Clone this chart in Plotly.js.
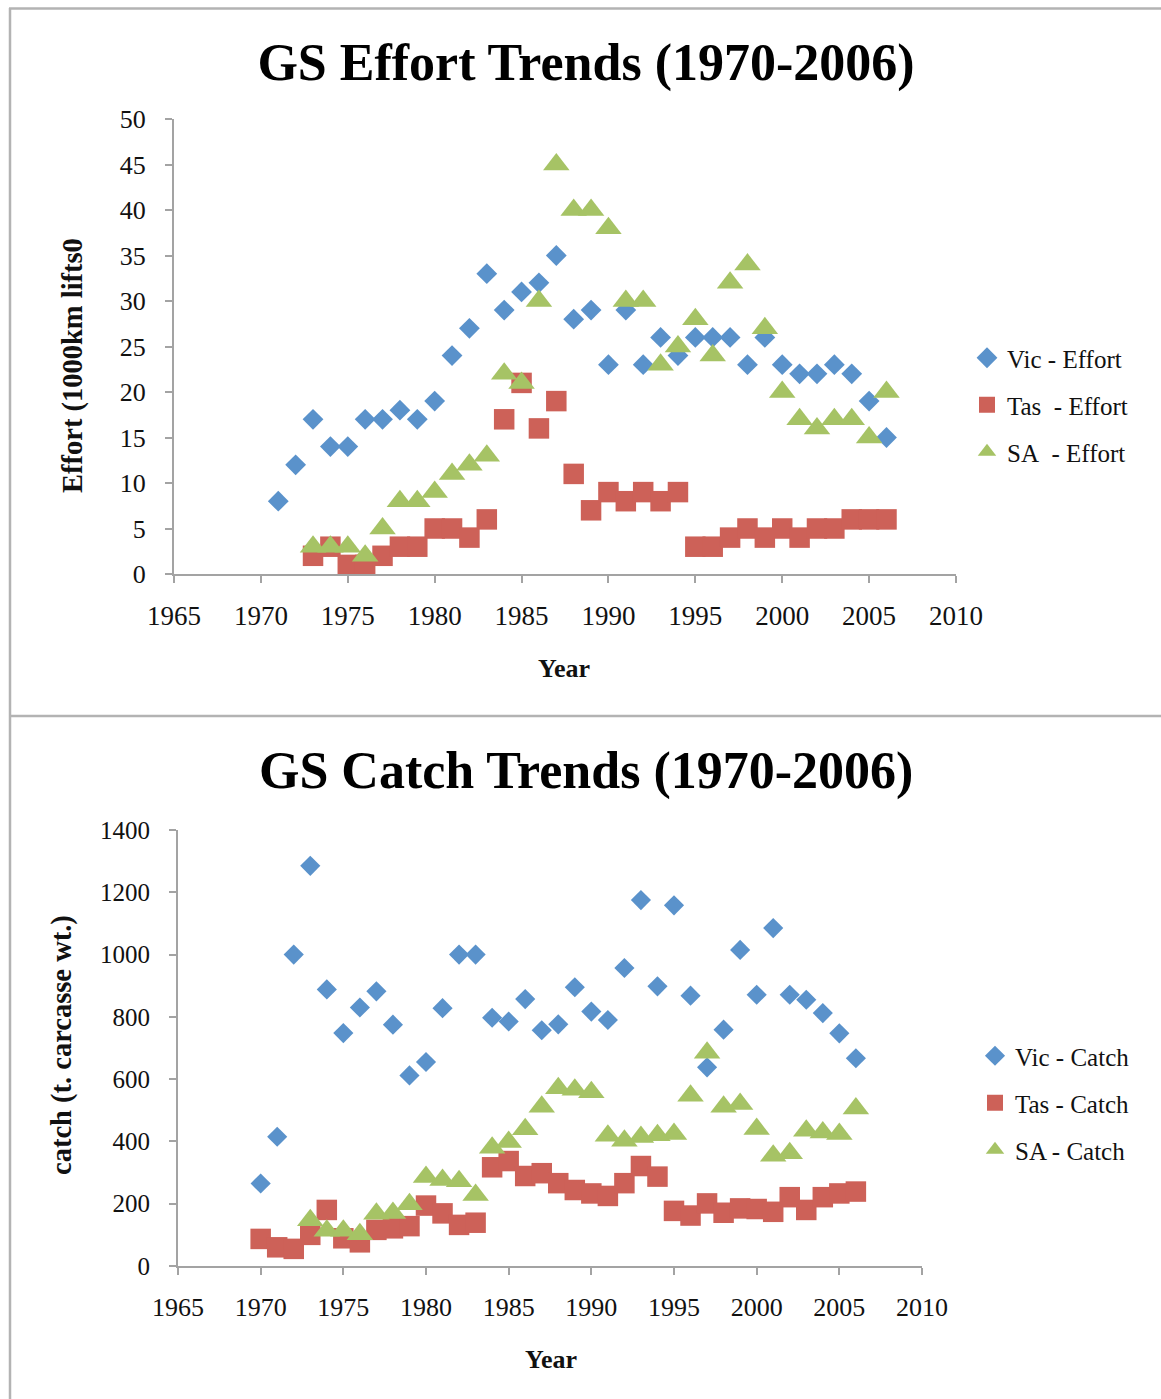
<!DOCTYPE html>
<html>
<head>
<meta charset="utf-8">
<script src="https://cdn.plot.ly/plotly-3.0.1.min.js"></script>
<style>
  html, body { margin: 0; padding: 0; background: #ffffff; }
  #chart { width: 1161px; height: 1399px; }
</style>
</head>
<body>
<div id="chart"></div>
<script>
// ---------- DATA ----------
const vicEffortYears = [1971,1972,1973,1974,1975,1976,1977,1978,1979,1980,1981,1982,1983,1984,1985,1986,1987,1988,1989,1990,1991,1992,1993,1994,1995,1996,1997,1998,1999,2000,2001,2002,2003,2004,2005,2006];
const vicEffort = [8,12,17,14,14,17,17,18,17,19,24,27,33,29,31,32,35,28,29,23,29,23,26,24,26,26,26,23,26,23,22,22,23,22,19,15];

const tasSaEffortYears = [1973,1974,1975,1976,1977,1978,1979,1980,1981,1982,1983,1984,1985,1986,1987,1988,1989,1990,1991,1992,1993,1994,1995,1996,1997,1998,1999,2000,2001,2002,2003,2004,2005,2006];
const tasEffort = [2,3,1,1,2,3,3,5,5,4,6,17,21,16,19,11,7,9,8,9,8,9,3,3,4,5,4,5,4,5,5,6,6,6];
const saEffort = [3,3,3,2,5,8,8,9,11,12,13,22,21,30,45,40,40,38,30,30,23,25,28,24,32,34,27,20,17,16,17,17,15,20];

const catchYears = [1970,1971,1972,1973,1974,1975,1976,1977,1978,1979,1980,1981,1982,1983,1984,1985,1986,1987,1988,1989,1990,1991,1992,1993,1994,1995,1996,1997,1998,1999,2000,2001,2002,2003,2004,2005,2006];
const vicCatch = [265,415,1000,1285,888,748,830,882,775,612,655,828,1000,1000,797,785,857,757,776,895,817,790,957,1175,898,1158,868,638,759,1015,871,1085,871,855,812,747,667];
const tasCatch = [87,60,55,100,180,89,76,116,121,128,194,169,132,139,317,337,289,298,266,244,233,225,266,321,287,177,162,201,171,185,183,174,221,180,221,233,239];
const saCatchYears = [1973,1974,1975,1976,1977,1978,1979,1980,1981,1982,1983,1984,1985,1986,1987,1988,1989,1990,1991,1992,1993,1994,1995,1996,1997,1998,1999,2000,2001,2002,2003,2004,2005,2006];
const saCatch = [147,113,113,102,168,170,198,286,276,272,228,380,398,439,511,571,566,558,418,402,414,420,424,547,685,511,520,440,354,362,434,429,424,506];

const effortNames = ["Vic - Effort", "Tas\u00a0 - Effort", "SA\u00a0 - Effort"];
const catchNames = ["Vic - Catch", "Tas - Catch", "SA - Catch"];
const chartTitles = ["GS Effort Trends (1970-2006)", "GS Catch Trends (1970-2006)"];
const xTitle = "Year";
const yTitles = ["Effort (1000km lifts0", "catch (t. carcasse wt.)"];

// ---------- STYLE ----------
const W = 1161, H = 1399;
const px = v => v / W;
const py = v => 1 - v / H;
const BLUE = "#5a92cb", RED = "#cd6158", GREEN = "#a6c365";
const SERIF = "Liberation Serif, Times New Roman, serif";
const AX = "#a3a3a3";

function mk(x, y, name, symbol, color, size, xa, ya, legend) {
  return {
    type: "scatter", mode: "markers", x: x, y: y, name: name,
    xaxis: xa, yaxis: ya, legend: legend, cliponaxis: false,
    legendgroup: name,
    marker: { symbol: symbol, color: color, size: size, line: { width: 0 } },
    hoverinfo: "x+y+name"
  };
}

const traces = [
  mk(vicEffortYears, vicEffort, effortNames[0], "diamond", BLUE, 16, "x", "y", "legend"),
  mk(tasSaEffortYears, tasEffort, effortNames[1], "square", RED, 20.5, "x", "y", "legend"),
  mk(tasSaEffortYears, saEffort, effortNames[2], "triangle-up", GREEN, 23, "x", "y", "legend"),
  mk(catchYears, vicCatch, catchNames[0], "diamond", BLUE, 15.5, "x2", "y2", "legend2"),
  mk(catchYears, tasCatch, catchNames[1], "square", RED, 20.5, "x2", "y2", "legend2"),
  mk(saCatchYears, saCatch, catchNames[2], "triangle-up", GREEN, 23, "x2", "y2", "legend2")
];

function xaxisDef(domain, anchor, fs) {
  return {
    domain: domain, anchor: anchor, range: [1965, 2010], tick0: 1965, dtick: 5,
    showgrid: false, zeroline: false, showline: true, linecolor: AX, linewidth: 2,
    ticks: "outside", ticklen: 7, tickwidth: 2, tickcolor: AX,
    ticklabelstandoff: 10,
    tickfont: { family: SERIF, size: fs, color: "#111" }
  };
}
function yaxisDef(domain, anchor, range, dtick, fs) {
  return {
    domain: domain, anchor: anchor, range: range, tick0: 0, dtick: dtick,
    showgrid: false, zeroline: false, showline: true, linecolor: AX, linewidth: 2,
    ticks: "outside", ticklen: 7, tickwidth: 2, tickcolor: AX,
    ticklabelstandoff: 14,
    tickfont: { family: SERIF, size: fs, color: "#111" }
  };
}

const legendBase = {
  xanchor: "left", yanchor: "top", bgcolor: "rgba(0,0,0,0)", borderwidth: 0,
  traceorder: "grouped", tracegroupgap: 11.5, itemsizing: "trace",
  font: { family: SERIF, size: 25, color: "#111" }
};

const layout = {
  width: W, height: H,
  margin: { l: 0, r: 0, t: 0, b: 0, autoexpand: false },
  paper_bgcolor: "#ffffff", plot_bgcolor: "#ffffff",
  showlegend: true,
  title: {
    text: chartTitles[0], xref: "paper", yref: "paper",
    x: px(586), y: py(62), xanchor: "center", yanchor: "middle",
    font: { family: SERIF, size: 52, color: "#000", weight: "bold" }
  },
  xaxis: xaxisDef([px(174), px(956)], "y", 27),
  yaxis: yaxisDef([py(574), py(119)], "x", [0, 50], 5, 26),
  xaxis2: xaxisDef([px(178), px(922)], "y2", 26),
  yaxis2: yaxisDef([py(1266), py(830)], "x2", [0, 1400], 200, 25),
  legend: Object.assign({}, legendBase, { x: px(967), y: py(335) }),
  legend2: Object.assign({}, legendBase, { x: px(975), y: py(1033) }),
  annotations: [
    { text: "<b>" + chartTitles[1] + "</b>", xref: "paper", yref: "paper", x: px(586), y: py(771),
      xanchor: "center", yanchor: "middle", showarrow: false,
      font: { family: SERIF, size: 52, color: "#000" } },
    { text: "<b>" + xTitle + "</b>", xref: "paper", yref: "paper", x: px(564), y: py(668),
      xanchor: "center", yanchor: "middle", showarrow: false,
      font: { family: SERIF, size: 26, color: "#111" } },
    { text: "<b>" + xTitle + "</b>", xref: "paper", yref: "paper", x: px(551), y: py(1359),
      xanchor: "center", yanchor: "middle", showarrow: false,
      font: { family: SERIF, size: 26, color: "#111" } },
    { text: "<b>" + yTitles[0] + "</b>", xref: "paper", yref: "paper", x: px(73), y: py(366),
      xanchor: "center", yanchor: "middle", showarrow: false, textangle: -90,
      font: { family: SERIF, size: 28.5, color: "#111" } },
    { text: "<b>" + yTitles[1] + "</b>", xref: "paper", yref: "paper", x: px(62), y: py(1045),
      xanchor: "center", yanchor: "middle", showarrow: false, textangle: -90,
      font: { family: SERIF, size: 28.5, color: "#111" } }
  ],
  shapes: [
    { type: "line", xref: "paper", yref: "paper", x0: px(10), x1: px(10), y0: py(8), y1: 0,
      line: { color: "#b3b3b3", width: 2.5 } },
    { type: "line", xref: "paper", yref: "paper", x0: px(9), x1: 1, y0: py(8.5), y1: py(8.5),
      line: { color: "#b3b3b3", width: 2.5 } },
    { type: "line", xref: "paper", yref: "paper", x0: px(9), x1: 1, y0: py(716), y1: py(716),
      line: { color: "#b3b3b3", width: 2.5 } }
  ]
};

Plotly.newPlot("chart", traces, layout, { displayModeBar: false, staticPlot: true });
</script>
</body>
</html>
